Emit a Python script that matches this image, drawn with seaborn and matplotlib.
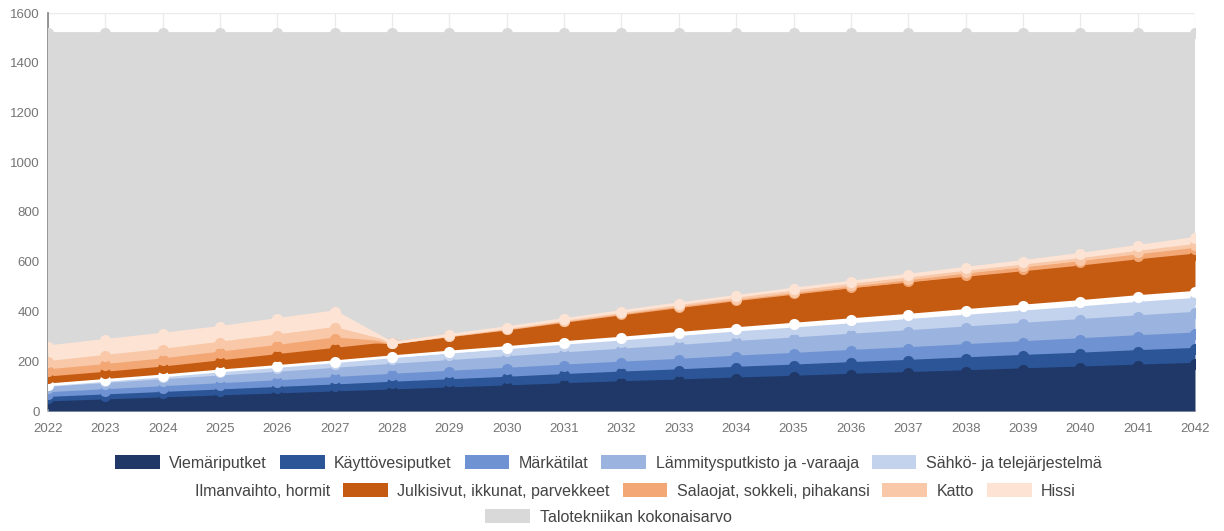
import numpy as np
import pandas as pd
import matplotlib
matplotlib.use("Agg")
import matplotlib.pyplot as plt
from matplotlib.patches import Patch
import seaborn as sns

years = list(range(2022, 2043))
viemari = [33, 41, 49, 57, 65, 73, 81, 89, 97, 106, 114, 121, 129, 136, 144, 151, 158, 166, 173, 181, 188]
kayttovesi = [18, 20, 22, 24, 26, 28, 31, 33, 35, 37, 39, 41, 43, 45, 47, 49, 52, 54, 56, 58, 60]
markatilat = [19, 21, 23, 25, 27, 30, 32, 34, 36, 38, 40, 42, 45, 47, 49, 51, 53, 55, 58, 60, 62]
lammitys = [22, 25, 28, 31, 34, 37, 40, 43, 46, 49, 52, 56, 59, 62, 65, 68, 71, 74, 77, 80, 83]
sahko = [11, 13, 15, 18, 20, 22, 24, 27, 29, 31, 33, 36, 38, 40, 42, 45, 47, 49, 51, 54, 56]
ilmanvaihto = [2, 3, 4, 6, 7, 8, 10, 11, 12, 14, 15, 16, 17, 19, 20, 21, 23, 24, 25, 27, 28]
julkisivut = [28, 29, 32, 37, 44, 50, 55, 63, 71, 81, 91, 100, 108, 115, 121, 126, 130, 134, 139, 144, 150]
salaojat = [29, 31, 33, 35, 37, 42, 0, 2, 3, 4, 6, 7, 8, 9, 11, 12, 14, 16, 18, 20, 23]
katto = [33, 37, 38, 40, 42, 42, 0, 1, 2, 3, 4, 5, 5, 6, 7, 8, 10, 11, 12, 14, 16]
hissi = [63, 64, 65, 63, 66, 67, 0, 2, 4, 5, 6, 7, 9, 11, 12, 15, 16, 18, 21, 24, 28]
kokonaisarvo = [1520] * 21

names = ["Viemäriputket", "Käyttövesiputket", "Märkätilat", "Lämmitysputkisto ja -varaaja",
         "Sähkö- ja telejärjestelmä", "Ilmanvaihto, hormit", "Julkisivut, ikkunat, parvekkeet",
         "Salaojat, sokkeli, pihakansi", "Katto", "Hissi", "Talotekniikan kokonaisarvo"]
colors = ["#1f3868", "#2b5597", "#6f93d2", "#9bb3df", "#c3d3ee", "#ffffff",
          "#c55a11", "#f2a774", "#f8c8a8", "#fce3d4", "#d9d9d9"]
stack_series = [viemari, kayttovesi, markatilat, lammitys, sahko, ilmanvaihto,
                julkisivut, salaojat, katto, hissi]

sns.set_theme(style="white")
plt.rcParams["font.family"] = ["Liberation Sans", "DejaVu Sans"]

fig = plt.figure(figsize=(12.24, 5.31), dpi=100)
ax = fig.add_axes([48 / 1224, 1 - 411 / 531, (1195 - 48) / 1224, (411 - 13) / 531])

# total value area (behind)
ax.fill_between(years, 0, kokonaisarvo, color=colors[10], lw=0, zorder=3)

base = np.zeros(len(years))
tops = []
for s, c in zip(stack_series, colors):
    top = base + np.array(s, dtype=float)
    ax.fill_between(years, base, top, color=c, lw=0, zorder=3)
    tops.append(top)
    base = top

sns.lineplot(x=years, y=kokonaisarvo, ax=ax, color=colors[10], lw=2, marker="o",
             markersize=8, markeredgewidth=0, zorder=4)
for top, c in zip(tops, colors):
    sns.lineplot(x=years, y=top, ax=ax, color=c, lw=2, marker="o", markersize=8,
                 markeredgewidth=0, zorder=4)

ax.set_xlim(2022, 2042)
ax.set_ylim(0, 1600)
ax.set_xticks(years)
ax.set_xticklabels([str(y) for y in years])
ax.set_yticks(range(0, 1601, 200))
ax.set_yticklabels([str(v) for v in range(0, 1601, 200)])
ax.tick_params(axis="y", length=4, width=1, color="#cccccc", labelcolor="#757575", labelsize=9.5, pad=2)
ax.tick_params(axis="x", length=0, labelcolor="#757575", labelsize=9.5, pad=9)
ax.grid(True, color="#ebebeb", lw=1)
ax.set_axisbelow(True)
for sp in ["top", "right"]:
    ax.spines[sp].set_visible(False)
ax.spines["left"].set_color("#888888")
ax.spines["left"].set_zorder(2)
ax.spines["bottom"].set_color("#cccccc")
ax.spines["bottom"].set_zorder(2)
ax.set_xlabel("")
ax.set_ylabel("")

handles = [Patch(facecolor=c, edgecolor="none", label=n) for n, c in zip(names, colors)]
rows = [(handles[0:5], 1 - 463 / 531), (handles[5:10], 1 - 491 / 531), (handles[10:], 1 - 517 / 531)]
for hs, yy in rows:
    fig.legend(handles=hs, loc="center", bbox_to_anchor=(0.497, yy), ncol=len(hs), frameon=False,
               fontsize=11.5, handlelength=2.8, handleheight=1.0, handletextpad=0.6,
               columnspacing=0.8, borderpad=0, labelcolor="#444444")

fig.savefig("out.png", dpi=100)
